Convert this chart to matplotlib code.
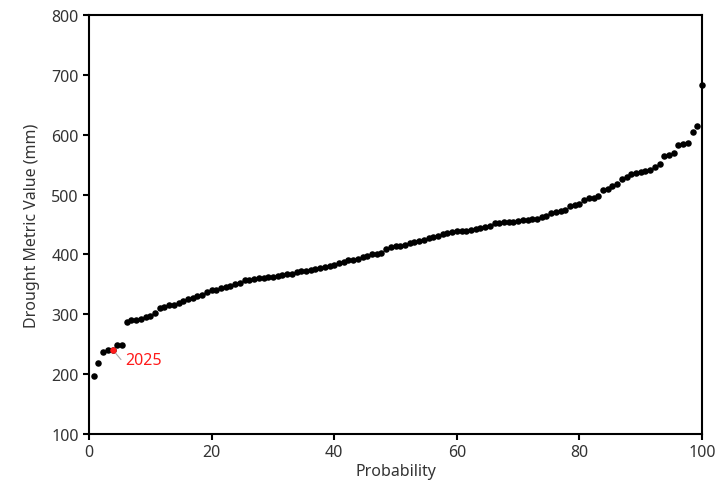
import numpy as np
import matplotlib
matplotlib.use("Agg")
import matplotlib.pyplot as plt

plt.rcParams['font.family'] = ['Noto Sans', 'DejaVu Sans']

# valores ordenados de la metrica de sequia (mm), 130 anos
valores = [197, 218, 237, 240, 241, 248, 249, 287, 290, 291,
           292, 295, 298, 302, 310, 313, 315, 316, 319, 323,
           326, 328, 330, 332, 337, 340, 341, 344, 346, 348,
           350, 353, 357, 358, 359, 360, 361, 362, 363, 364,
           365, 367, 368, 371, 372, 373, 374, 375, 377, 379,
           381, 383, 386, 388, 390, 391, 392, 395, 398, 400,
           401, 403, 410, 412, 414, 415, 416, 420, 421, 422,
           425, 428, 430, 431, 434, 436, 438, 439, 440, 440,
           441, 442, 444, 446, 448, 452, 453, 454, 454, 455,
           456, 457, 458, 459, 460, 462, 465, 469, 471, 472,
           475, 481, 483, 484, 491, 494, 495, 497, 507, 509,
           514, 517, 526, 530, 534, 537, 538, 539, 542, 547,
           552, 565, 567, 570, 583, 585, 587, 605, 614, 683]
rango_2025 = 5  # posicion (1-based) del ano 2025
etiqueta = "2025"

n = len(valores)
prob = np.arange(1, n + 1) / n * 100
valores = np.array(valores)

fig = plt.figure(figsize=(7.24, 4.89), dpi=100)
ax = fig.add_axes([0.123, 0.1104, 0.8466, 0.8566])

ax.scatter(prob, valores, s=22, color="black", zorder=3, linewidths=0, clip_on=False)
i = rango_2025 - 1
ax.scatter([prob[i]], [valores[i]], s=22, color="#ff1a1a", zorder=4, linewidths=0)
ax.annotate(etiqueta, xy=(prob[i], valores[i]), xytext=(prob[i] + 2.0, valores[i] - 18),
            color="#ff1a1a", fontsize=11.5, va="center", ha="left",
            arrowprops=dict(arrowstyle="-", color="#aaaaaa", lw=0.8,
                            connectionstyle="angle,angleA=0,angleB=-50,rad=0",
                            shrinkA=1, shrinkB=2))

ax.set_xlim(0, 100)
ax.set_ylim(100, 800)
ax.set_xticks([0, 20, 40, 60, 80, 100])
ax.set_yticks([100, 200, 300, 400, 500, 600, 700, 800])
for s in ax.spines.values():
    s.set_linewidth(1.5)
ax.tick_params(direction="out", length=4, width=1.5, labelsize=11.5, labelcolor="#333333")
ax.set_xlabel("Probability", fontsize=11.5, color="#333333", labelpad=2)
ax.set_ylabel("Drought Metric Value (mm)", fontsize=11.5, color="#333333", labelpad=8)

plt.savefig("out.png", dpi=100)
